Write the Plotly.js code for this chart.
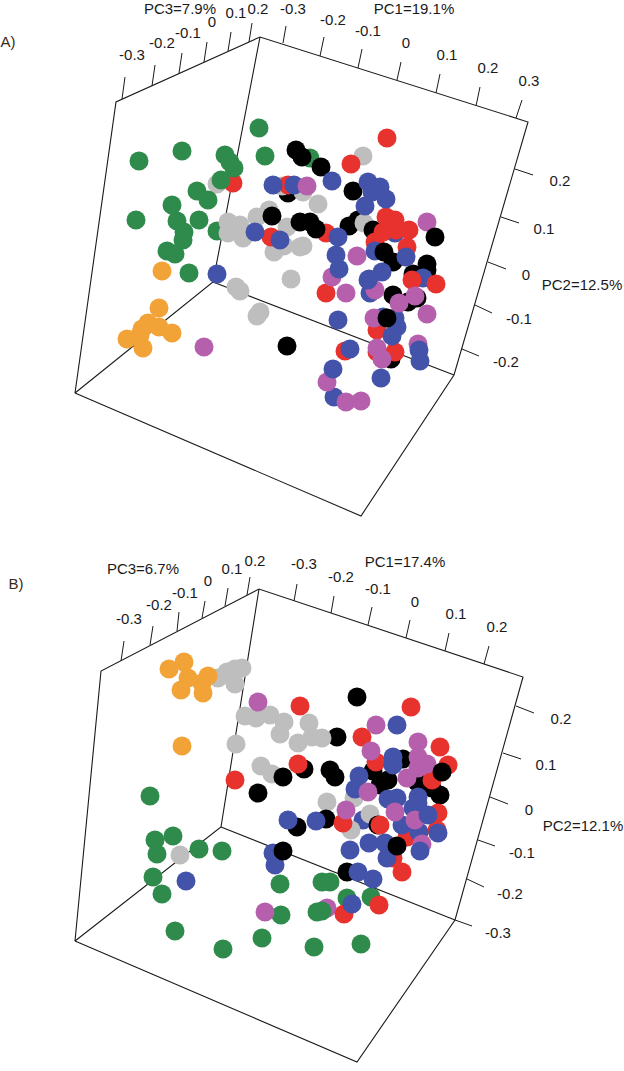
<!DOCTYPE html>
<html><head><meta charset="utf-8">
<script src="https://cdn.plot.ly/plotly-3.0.1.min.js"></script>
<style>html,body{margin:0;padding:0;background:#fff}#chart{width:624px;height:1071px}</style>
</head><body><div id="chart"></div>
<script>
const GREEN='#2E8B4B',GRAY='#BEBEBE',BLACK='#000000',RED='#E8322E',BLUE='#4353A9',PURPLE='#B55FAD',ORANGE='#F2A337';

// Panel A — groups in drawing order
const aBlackBack=[[349,226],[358,220],[288,193]];
const aGreenBack=[[217,231]];
const aGray=[[217,184],[228,222],[240,225],[228,233],[243,238],[257,217],[269,210],[287,227],[318,204],[303,246],[274,252],[284,246],[300,247],[363,156],[364,223],[291,279],[236,287],[240,291],[260,312],[257,316],[282,186],[303,192]];
const aRedBack=[[233,183],[271,237],[326,233],[288,185],[351,164]];
const aGreen=[[139,161],[182,151],[259,128],[265,156],[225,155],[230,162],[234,168],[221,180],[197,191],[208,200],[172,205],[136,220],[177,221],[199,220],[184,232],[183,240],[167,251],[175,254],[189,273],[310,158]];
const aOrange=[[162,271],[159,308],[148,323],[142,329],[159,327],[172,333],[127,339],[143,348],[140,335]];
const aPurpleBack=[[427,222]];
const aBlack=[[296,150],[302,157],[321,167],[353,191],[272,216],[300,222],[310,222],[316,229],[373,230],[393,262],[393,295],[408,302],[417,298],[413,274],[427,270],[435,237],[427,264],[287,346],[391,359]];
const aBlueLow=[[395,233],[423,278]];
const aRed=[[387,138],[386,217],[395,220],[396,230],[409,230],[375,242],[407,247],[383,232],[326,293],[412,280],[436,284],[377,330],[345,351],[377,352],[395,352]];
const aBlue=[[273,185],[294,185],[332,181],[368,182],[380,187],[372,192],[386,199],[365,206],[280,240],[255,232],[338,237],[336,255],[375,251],[406,257],[369,279],[370,293],[338,320],[383,317],[395,318],[397,327],[392,336],[350,349],[334,397],[217,274]];
const aPurple=[[307,186],[357,256],[332,277],[375,290],[346,293],[399,303],[415,296],[427,314],[374,318],[377,348],[382,359],[418,344],[327,382],[346,402],[361,401],[204,347]];
const aBlackTop=[[384,252],[387,318]];
const aBlueTop=[[339,269],[382,272],[368,280],[419,350],[420,361],[333,369],[381,378]];

// Panel B — groups in drawing order
const bPurpleBack=[[327,908]];
const bBlackBack=[[337,737]];
const bBlueBack=[[363,820]];
const bGray=[[218,678],[227,672],[235,669],[242,668],[235,684],[230,675],[245,716],[256,718],[270,715],[284,722],[280,734],[309,723],[298,743],[312,737],[322,738],[236,744],[261,766],[272,774],[327,802],[354,798],[370,814],[351,830],[180,855]];
const bOrange=[[169,669],[184,662],[188,678],[181,690],[208,676],[202,683],[203,693],[182,746]];
const bGreen=[[150,796],[173,836],[155,840],[157,854],[199,849],[222,851],[153,877],[162,894],[280,884],[322,882],[330,882],[347,898],[371,897],[317,912],[322,911],[281,915],[175,931],[223,949],[262,938],[314,947],[361,944]];
const bBlack=[[357,697],[283,777],[304,769],[330,770],[335,777],[258,793],[403,759],[373,771],[388,780],[380,785],[417,782],[432,788],[440,795],[297,827],[326,819],[378,825],[347,872]];
const bRed=[[411,707],[300,706],[298,764],[235,780],[362,737],[440,747],[376,762],[448,765],[432,780],[438,813],[343,823],[380,825],[437,830],[407,837],[393,858],[402,872],[344,914],[379,905]];
const bBlue=[[397,725],[393,757],[393,765],[359,776],[355,789],[388,799],[397,798],[418,797],[418,803],[413,808],[419,832],[402,825],[438,833],[369,843],[385,843],[387,858],[288,820],[316,821],[350,850],[358,872],[373,879],[273,853],[275,865],[186,881],[352,904]];
const bPurple=[[258,702],[376,725],[418,742],[371,751],[418,757],[427,764],[418,768],[407,778],[368,792],[346,810],[395,812],[415,820],[422,844],[265,912]];
const bBlackTop=[[442,772],[283,851],[397,846]];
const bBlueTop=[[420,851],[428,815]];

const aBox=[[[75,393],[116,102],[260,37],[528,122],[454,375],[361,516],[75,393]],[[260,37],[213,282],[75,393]],[[213,282],[454,375]]];
const aTicks=[[[122,99],[125,77]],[[152,86],[155,65]],[[179,73],[182,53]],[[204,62],[207,42]],[[228,51],[231,32]],[[249,42],[252,23]],
 [[283,43],[286,26]],[[320,56],[324,37]],[[358,68],[362,49]],[[397,80],[401,62]],[[436,93],[440,74]],[[476,106],[480,87]],[[516,118],[522,100]],
 [[515,169],[533,175]],[[501,217],[519,223]],[[488,262],[506,269]],[[475,305],[492,313]],[[462,349],[479,356]]];
const bBox=[[[75,941],[101,671],[259,589],[523,677],[455,920],[357,1062],[75,941]],[[259,589],[221,827],[75,941]],[[221,827],[455,920]]];
const bTicks=[[[121,661],[124,641]],[[150,645],[153,626]],[[177,631],[179,612]],[[202,618],[205,601]],[[225,606],[228,588]],[[247,595],[250,577]],
 [[294,601],[297,584]],[[331,613],[334,596]],[[368,625],[372,607]],[[406,638],[410,620]],[[445,651],[449,633]],[[484,664],[489,646]],
 [[516,706],[534,713]],[[503,753],[521,759]],[[490,797],[508,804]],[[478,840],[495,846]],[[467,879],[484,887]],[[455,920],[472,926]]];

// Text labels
const labelText=['PC3=7.9%','-0.3','-0.2','-0.1','0','0.1','0.2','-0.3','-0.2','PC1=19.1%','-0.1','0','0.1','0.2','0.3','0.2','0.1','0','-0.1','-0.2','PC2=12.5%',
 'PC3=6.7%','-0.3','-0.2','-0.1','0','0.1','0.2','-0.3','-0.2','PC1=17.4%','-0.1','0','0.1','0.2','0.2','0.1','0','-0.1','-0.2','-0.3','PC2=12.1%'];
const labelX=[180,132,162,188,212,236,258,293,333,414,368,406,447,488,529,560,544,526,519,506,582,
 143,129,159,185,208,232,255,304,341,405,378,415,456,497,561,546,529,522,510,498,583];
const labelY=[10,56,44,34,23,14,10,10,21,10,32,44,56,69,82,182,230,276,320,363,286,
 570,620,606,594,582,570,562,565,578,563,590,603,615,628,720,766,811,854,895,934,827];
const panelText=['A)','B)'];
const panelX=[8,16];
const panelY=[43,585];

function seg(list){const x=[],y=[];list.forEach(p=>{p.forEach(q=>{x.push(q[0]);y.push(q[1]);});x.push(null);y.push(null);});return {x,y};}
function lineTrace(list,w){const s=seg(list);return {type:'scatter',mode:'lines',x:s.x,y:s.y,line:{color:'#1a1a1a',width:w},hoverinfo:'skip',showlegend:false};}
function pts(list,color){return {type:'scatter',mode:'markers',x:list.map(p=>p[0]),y:list.map(p=>p[1]),marker:{color:color,size:19,line:{width:0}},hoverinfo:'skip',showlegend:false};}

const FONT='"Liberation Sans",Arial,sans-serif';
const data=[
 lineTrace(aBox,1.1),lineTrace(aTicks,1),lineTrace(bBox,1.1),lineTrace(bTicks,1),
 pts(aBlackBack,BLACK),pts(aGreenBack,GREEN),pts(aGray,GRAY),pts(aRedBack,RED),pts(aGreen,GREEN),pts(aOrange,ORANGE),pts(aPurpleBack,PURPLE),pts(aBlack,BLACK),pts(aBlueLow,BLUE),pts(aRed,RED),pts(aBlue,BLUE),pts(aPurple,PURPLE),pts(aBlackTop,BLACK),pts(aBlueTop,BLUE),
 pts(bPurpleBack,PURPLE),pts(bBlackBack,BLACK),pts(bBlueBack,BLUE),pts(bGray,GRAY),pts(bOrange,ORANGE),pts(bGreen,GREEN),pts(bBlack,BLACK),pts(bRed,RED),pts(bBlue,BLUE),pts(bPurple,PURPLE),pts(bBlackTop,BLACK),pts(bBlueTop,BLUE),
 {type:'scatter',mode:'text',x:labelX,y:labelY,text:labelText,textposition:'middle center',textfont:{family:FONT,size:15,color:'#1a1a1a'},hoverinfo:'skip',showlegend:false,cliponaxis:false},
 {type:'scatter',mode:'text',x:panelX,y:panelY,text:panelText,textposition:'middle center',textfont:{family:FONT,size:15,color:'#3a2a1c'},hoverinfo:'skip',showlegend:false,cliponaxis:false}
];
const layout={width:624,height:1071,margin:{l:0,r:0,t:0,b:0,pad:0},paper_bgcolor:'#fff',plot_bgcolor:'#fff',showlegend:false,hovermode:false,
 xaxis:{range:[0,624],visible:false,fixedrange:true},yaxis:{range:[1071,0],visible:false,fixedrange:true}};
Plotly.newPlot('chart',data,layout,{displayModeBar:false,staticPlot:true});
</script></body></html>
